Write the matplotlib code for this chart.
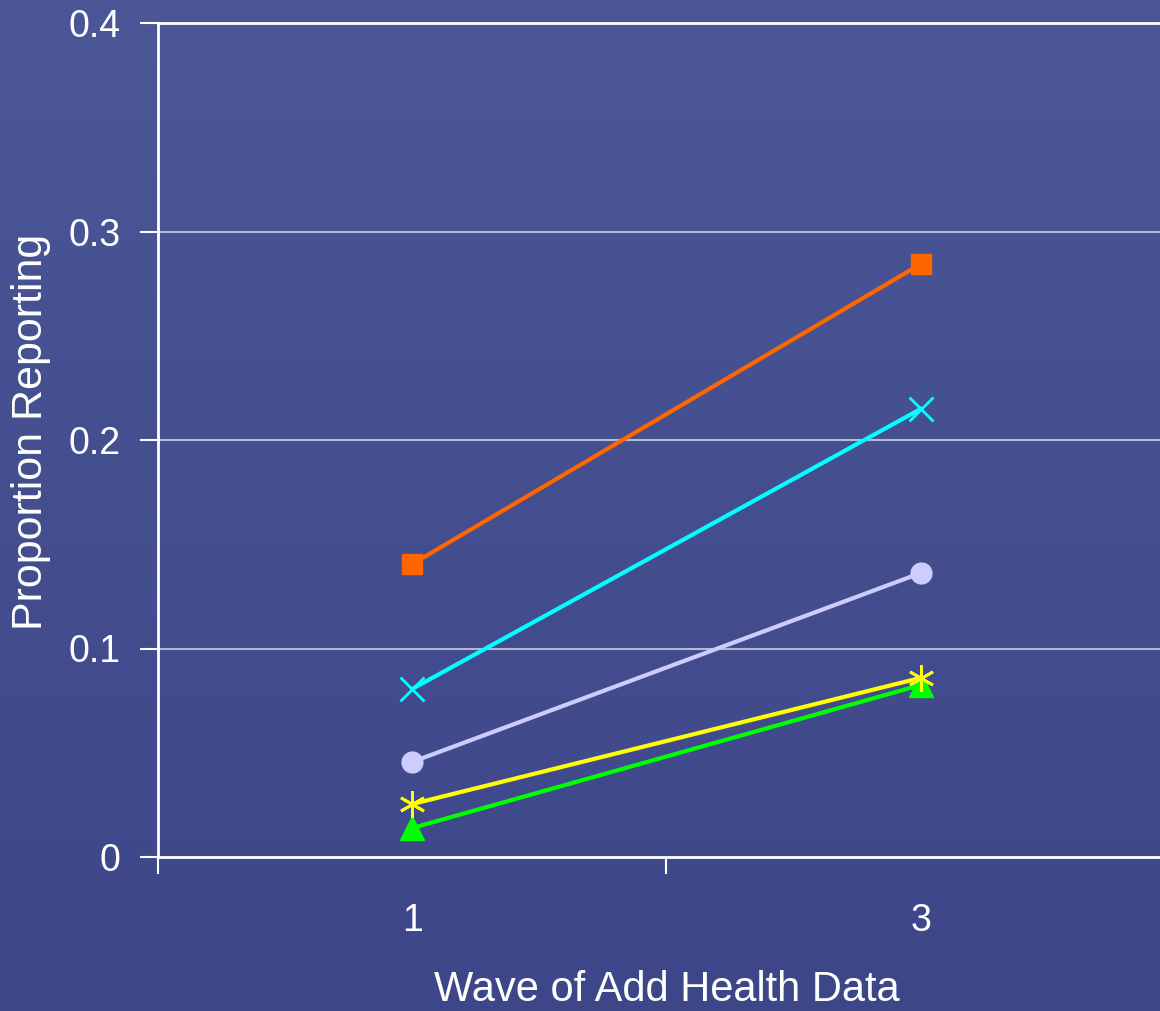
import matplotlib.pyplot as plt
import numpy as np

plt.rcParams['font.family'] = ['Liberation Sans', 'DejaVu Sans']

waves = ['1', '3']
orange_sq = [0.1405, 0.2844]
cyan_x = [0.0806, 0.2149]
lavender_o = [0.0456, 0.1362]
yellow_star = [0.0254, 0.0859]
green_tri = [0.0139, 0.0825]
yticks = [0, 0.1, 0.2, 0.3, 0.4]
yticklabels = ['0', '0.1', '0.2', '0.3', '0.4']

W, H = 1160, 1011
fig = plt.figure(figsize=(W / 100, H / 100), dpi=100)

# gradient background
bg = fig.add_axes([0, 0, 1, 1], zorder=-10)
top = np.array([75, 87, 150]) / 255
bot = np.array([61, 70, 137]) / 255
t = np.linspace(0, 1, 256)[:, None]
grad = (top * (1 - t) + bot * t)[:, None, :]
bg.imshow(grad, aspect='auto', extent=[0, 1, 0, 1])
bg.axis('off')

# axes: left 158, right 1175 (beyond edge), top 23, bottom 857
ax = fig.add_axes([158 / W, (H - 857) / H, (1175 - 158) / W, (857 - 23) / H])
ax.patch.set_alpha(0)

x = np.arange(len(waves))
ax.plot(x, orange_sq, color='#ff6600', lw=3, marker='s', ms=15, zorder=3)
ax.plot(x, cyan_x, color='#00ffff', lw=3, marker='x', ms=17, mew=2, zorder=3)
ax.plot(x, lavender_o, color='#ccccff', lw=3, marker='o', ms=15, zorder=3)
ax.plot(x, yellow_star, color='#ffff00', lw=3, marker=(6, 2, 0), ms=19, mew=2, zorder=4)
ax.plot(x, green_tri, color='#00ff00', lw=3, marker='^', ms=17, zorder=3)

ax.set_xlim(-0.5, 1.5)
ax.set_ylim(0, 0.4)
ax.set_yticks(yticks)
ax.set_yticklabels(yticklabels)
for yv in yticks[1:4]:
    ax.axhline(yv, color='#b4b8d4', lw=1.5, zorder=1)
ax.axhline(0.4, color='white', lw=2, zorder=1, clip_on=False)

ax.set_xticks([-0.5, 0.5, 1.5])
ax.set_xticklabels([])
ax.set_xticks(x, minor=True)
ax.set_xticklabels(waves, minor=True)
ax.tick_params(axis='x', which='minor', length=0, pad=33, labelsize=27, labelcolor='white')
ax.tick_params(axis='x', which='major', length=12, width=1.5, color='white', direction='out')
ax.tick_params(axis='y', length=13, width=1.5, color='white', direction='out', pad=14,
               labelsize=27, labelcolor='white')

for s in ['top', 'right']:
    ax.spines[s].set_visible(False)
for s in ['left', 'bottom']:
    ax.spines[s].set_color('white')
    ax.spines[s].set_linewidth(2)

fig.text(31 / W, 1 - 432 / H, 'Proportion Reporting', rotation=90, color='white',
         fontsize=31, ha='center', va='center')
fig.text(667 / W, 1 - 990 / H, 'Wave of Add Health Data', color='white',
         fontsize=30, ha='center', va='center')

fig.savefig('out.png', dpi=100)
